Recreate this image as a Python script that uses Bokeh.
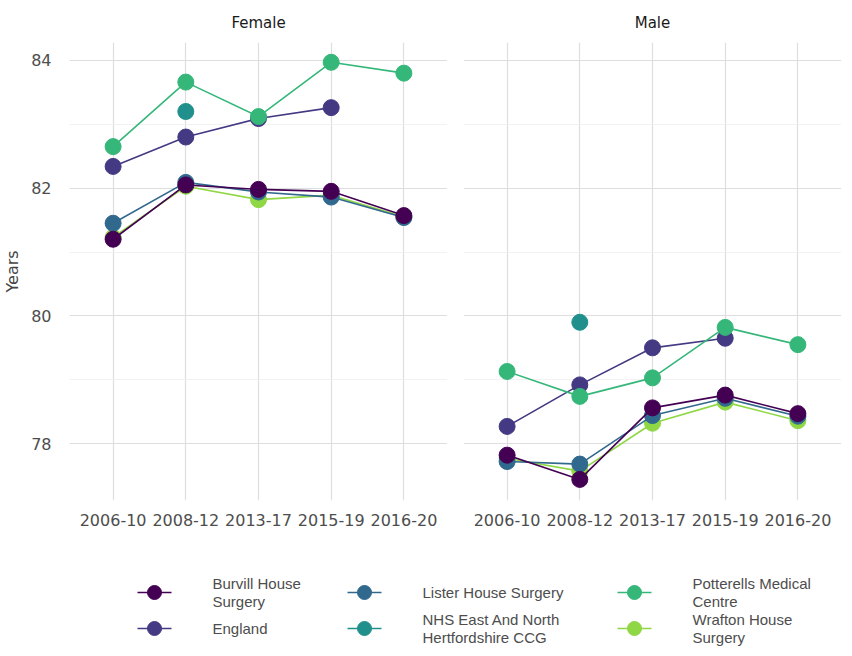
from bokeh.plotting import figure
from bokeh.models import FactorRange, Range1d, FixedTicker, ColumnDataSource
from bokeh.layouts import column, row
from bokeh.embed import file_html
from bokeh.resources import INLINE
from bokeh.core.properties import value

periods = ["2006-10", "2008-12", "2013-17", "2015-19", "2016-20"]

series_names = ["Burvill House Surgery", "England", "Lister House Surgery",
                "NHS East And North Hertfordshire CCG", "Potterells Medical Centre",
                "Wrafton House Surgery"]
legend_labels = ["Burvill House\nSurgery", "England", "Lister House Surgery",
                 "NHS East And North\nHertfordshire CCG", "Potterells Medical\nCentre",
                 "Wrafton House\nSurgery"]
colors = ["#440154", "#443A83", "#31688E", "#21908C", "#35B779", "#8FD744"]

# Female life expectancy (years); None = no value
female_burvill = [81.20, 82.05, 81.98, 81.95, 81.57]
female_england = [82.34, 82.80, 83.09, 83.26, None]
female_lister = [81.45, 82.09, 81.94, 81.86, 81.54]
female_nhs = [None, 83.20, None, None, None]
female_potterells = [82.65, 83.66, 83.12, 83.97, 83.80]
female_wrafton = [81.23, 82.03, 81.82, 81.89, 81.55]

# Male life expectancy (years)
male_burvill = [77.82, 77.44, 78.56, 78.76, 78.47]
male_england = [78.27, 78.92, 79.50, 79.65, None]
male_lister = [77.72, 77.68, 78.44, 78.71, 78.43]
male_nhs = [None, 79.90, None, None, None]
male_potterells = [79.13, 78.74, 79.03, 79.82, 79.55]
male_wrafton = [77.77, 77.57, 78.32, 78.65, 78.36]

female = [female_burvill, female_england, female_lister, female_nhs, female_potterells, female_wrafton]
male = [male_burvill, male_england, male_lister, male_nhs, male_potterells, male_wrafton]

y_ticks = [78, 80, 82, 84]
y_minor = [77, 79, 81, 83]

# draw order (bottom -> top)
draw_order = [5, 2, 3, 1, 4, 0]

FONT = "DejaVu Sans"
y_range = Range1d(77.11, 84.28)


def make_panel(title, data, show_y):
    p = figure(x_range=FactorRange(*periods, range_padding=0.1, range_padding_units="absolute"),
               y_range=y_range, frame_width=378, frame_height=458,
               output_backend="svg", toolbar_location=None,
               min_border_left=64 if show_y else 16, min_border_right=0,
               min_border_top=32, min_border_bottom=0)
    p.title.text = title
    p.title.align = "center"
    p.title.text_font = FONT
    p.title.text_font_size = "15px"
    p.title.text_font_style = "normal"
    p.title.text_color = "#1A1A1A"
    p.title.standoff = 22
    p.outline_line_color = None
    p.background_fill_color = "white"
    p.border_fill_color = "white"

    p.yaxis.ticker = FixedTicker(ticks=y_ticks, minor_ticks=y_minor)
    p.ygrid.grid_line_color = "#DEDEDE"
    p.ygrid.grid_line_width = 1.2
    p.ygrid.minor_grid_line_color = "#EFEFEF"
    p.ygrid.minor_grid_line_width = 0.8
    p.xgrid.grid_line_color = "#DEDEDE"
    p.xgrid.grid_line_width = 1.2

    for ax in (p.xaxis, p.yaxis):
        ax.axis_line_color = None
        ax.major_tick_line_color = None
        ax.minor_tick_line_color = None
        ax.major_label_text_font = FONT
        ax.major_label_text_font_size = "16px"
        ax.major_label_text_color = "#4D4D4D"
    p.xaxis.major_label_standoff = 7
    p.yaxis.major_label_standoff = 12
    if show_y:
        p.yaxis.axis_label = "Years"
        p.yaxis.axis_label_text_font = FONT
        p.yaxis.axis_label_text_font_size = "16px"
        p.yaxis.axis_label_text_font_style = "normal"
        p.yaxis.axis_label_text_color = "#444444"
        p.yaxis.axis_label_standoff = 6
    else:
        p.yaxis.visible = False

    for i in draw_order:
        xs = [per for per, v in zip(periods, data[i]) if v is not None]
        ys = [v for v in data[i] if v is not None]
        src = ColumnDataSource(dict(x=xs, y=ys))
        if len(xs) > 1:
            p.line("x", "y", source=src, line_color=colors[i], line_width=1.6)
        p.scatter("x", "y", source=src, size=16, fill_color=colors[i], line_color=colors[i])
    return p


pf = make_panel("Female", female, True)
pm = make_panel("Male", male, False)

# legend panel
LEG_H = 119
leg = figure(width=836, height=LEG_H, x_range=Range1d(0, 836), y_range=Range1d(LEG_H, 0),
             output_backend="svg", toolbar_location=None,
             min_border=0)
leg.axis.visible = False
leg.grid.visible = False
leg.outline_line_color = None

col_x = [154, 364, 634]
row_y = [64, 100]
for i, lab in enumerate(legend_labels):
    cx = col_x[i // 2]
    cy = row_y[i % 2]
    leg.line([cx - 17, cx + 17], [cy, cy], line_color=colors[i], line_width=1.6)
    leg.scatter([cx], [cy], size=14, fill_color=colors[i], line_color=colors[i])
    leg.text([cx + 58], [cy], text=[lab], text_font=value("Liberation Sans"),
             text_font_size="15px", text_color="#4D4D4D", text_baseline="middle",
             text_align="left", text_line_height=1.1)

layout = column(row(pf, pm), leg)
open("out.html", "w").write(file_html(layout, INLINE))
